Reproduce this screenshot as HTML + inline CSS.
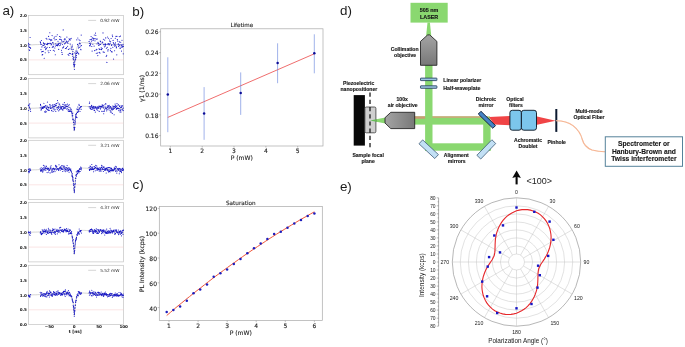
<!DOCTYPE html>
<html lang="en"><head><meta charset="utf-8"><title>Figure</title>
<style>html,body{margin:0;padding:0;background:#fff;}body{width:685px;height:347px;overflow:hidden;}svg{display:block;}</style>
</head><body>
<svg width="685" height="347" viewBox="0 0 685 347">
<rect width="685" height="347" fill="#fff"/>
<g font-family='"Liberation Sans","DejaVu Sans",sans-serif' font-size="13.4" fill="#1a1a1a">
<text x="2.4" y="15">a)</text>
<text x="132.2" y="15.5">b)</text>
<text x="132.6" y="189.1">c)</text>
<text x="340.1" y="15.3">d)</text>
<text x="339.9" y="190.8">e)</text>
</g>
<g id="pa">
<rect x="28.5" y="15.4" width="94.9" height="59.3" fill="#fff" stroke="#c4c4c4" stroke-width="0.7"/>
<path d="M28.5 59.9H123.4" stroke="#f5cfcf" stroke-width="0.55"/>
<path d="M28.4 44.9L30.3 44.9L32.2 44.8L34.1 44.7L35.9 44.6L37.8 44.6L39.7 44.5L41.6 44.4L43.5 44.3L45.4 44.1L47.3 44.0L49.2 43.9L51.1 43.8L53.0 43.6L54.9 43.5L56.8 43.3L58.7 43.1L60.6 43.0L62.5 42.8L64.4 42.6L64.4 42.6L64.7 42.6L64.9 42.6L65.2 42.6L65.4 42.6L65.7 42.6L65.9 42.6L66.1 42.6L66.4 42.6L66.6 42.6L66.9 42.7L67.1 42.7L67.4 42.7L67.6 42.8L67.9 42.9L68.1 42.9L68.4 43.0L68.6 43.1L68.9 43.3L69.1 43.4L69.4 43.6L69.6 43.8L69.9 44.1L70.1 44.4L70.3 44.7L70.6 45.1L70.8 45.6L71.1 46.2L71.3 46.8L71.6 47.5L71.8 48.4L72.1 49.4L72.3 50.5L72.6 51.8L72.8 53.3L73.1 55.0L73.3 57.0L73.6 59.3L73.8 61.9L74.1 65.0L74.3 68.5L74.5 65.0L74.8 61.9L75.0 59.3L75.3 57.0L75.5 55.0L75.8 53.3L76.0 51.8L76.3 50.5L76.5 49.4L76.8 48.4L77.0 47.5L77.3 46.8L77.5 46.2L77.8 45.6L78.0 45.1L78.3 44.7L78.5 44.4L78.7 44.1L79.0 43.8L79.2 43.6L79.5 43.4L79.7 43.3L80.0 43.1L80.2 43.0L80.5 42.9L80.7 42.9L81.0 42.8L81.2 42.7L81.5 42.7L81.7 42.7L82.0 42.6L82.2 42.6L82.5 42.6L82.7 42.6L82.9 42.6L83.2 42.6L83.4 42.6L83.7 42.6L83.9 42.6L84.2 42.6L84.2 42.6L86.3 42.8L88.3 43.0L90.4 43.2L92.5 43.4L94.6 43.5L96.7 43.7L98.7 43.9L100.8 44.0L102.9 44.1L105.0 44.3L107.1 44.4L109.1 44.5L111.2 44.6L113.3 44.7L115.4 44.8L117.5 44.8L119.5 44.9L121.6 45.0L123.7 45.0" fill="none" stroke="#c9c9c9" stroke-width="0.8"/>
<path d="M28.4 44.9h0M28.6 43.3h0M28.9 46.4h0M29.1 49.8h0M29.3 47.4h0M29.6 50.3h0M29.8 44.6h0M30.1 37.5h0M30.3 47.6h0M30.6 48.3h0M40.2 41.7h0M40.5 42.4h0M40.7 43.8h0M41.0 49.6h0M41.2 44.5h0M41.4 40.5h0M41.7 51.8h0M41.9 46.9h0M42.2 54.9h0M42.4 51.5h0M42.7 54.5h0M42.9 45.6h0M43.2 51.3h0M43.4 42.8h0M43.7 43.4h0M43.9 45.3h0M44.2 58.2h0M44.4 47.2h0M44.7 44.5h0M44.9 43.5h0M45.2 52.7h0M45.4 46.8h0M45.6 49.6h0M45.9 48.6h0M46.1 38.2h0M46.4 48.6h0M46.6 44.3h0M46.9 39.1h0M47.1 47.3h0M47.4 44.6h0M47.6 43.4h0M47.9 43.6h0M48.1 50.8h0M48.4 43.5h0M48.6 36.4h0M48.9 52.6h0M49.1 39.1h0M49.4 43.2h0M49.6 47.5h0M49.8 32.7h0M50.1 39.6h0M50.3 50.5h0M50.6 43.4h0M50.8 40.6h0M51.1 44.8h0M51.3 39.9h0M51.6 44.1h0M51.8 40.0h0M52.1 35.6h0M52.3 47.5h0M52.6 42.5h0M52.8 46.2h0M53.1 42.9h0M53.3 50.3h0M53.6 46.8h0M53.8 44.7h0M54.0 38.5h0M54.3 37.1h0M54.5 51.0h0M54.8 48.0h0M55.0 39.8h0M55.3 54.7h0M55.5 46.0h0M55.8 43.9h0M56.0 36.3h0M56.3 39.5h0M56.5 45.2h0M56.8 45.4h0M57.0 44.7h0M57.3 34.7h0M57.5 45.7h0M57.8 44.9h0M58.0 41.2h0M58.2 43.9h0M58.5 44.3h0M58.7 49.4h0M59.0 43.2h0M59.2 45.6h0M59.5 36.5h0M59.7 39.3h0M60.0 43.2h0M60.2 39.2h0M60.5 44.9h0M60.7 37.0h0M61.0 43.0h0M61.2 39.6h0M61.5 50.2h0M61.7 40.9h0M61.9 52.4h0M62.2 54.4h0M62.4 44.5h0M62.7 47.9h0M62.9 41.8h0M63.2 29.9h0M63.4 47.5h0M63.7 46.2h0M63.9 41.5h0M64.2 39.8h0M64.4 43.7h0M64.7 43.8h0M64.9 38.6h0M65.2 39.6h0M65.4 48.5h0M65.7 43.1h0M65.9 42.4h0M66.1 48.6h0M66.4 41.1h0M66.6 47.5h0M66.9 37.1h0M67.1 41.6h0M67.4 42.2h0M67.6 46.2h0M67.9 43.5h0M68.1 54.3h0M68.4 49.4h0M68.6 41.1h0M68.9 55.3h0M69.1 38.7h0M69.4 53.4h0M69.6 39.6h0M69.9 48.8h0M70.1 40.1h0M70.3 44.0h0M70.6 53.6h0M70.8 38.8h0M71.1 38.4h0M71.3 47.1h0M71.6 49.0h0M71.8 49.2h0M72.1 54.3h0M72.3 45.0h0M72.6 54.4h0M72.8 53.5h0M73.1 58.6h0M73.3 59.7h0M73.6 64.3h0M73.8 57.4h0M74.1 65.5h0M74.3 66.0h0M74.5 64.9h0M74.8 64.4h0M75.0 60.6h0M75.3 59.4h0M75.5 55.0h0M75.8 55.0h0M76.0 53.2h0M76.3 57.3h0M76.5 53.4h0M76.8 39.8h0M77.0 51.1h0M77.3 52.4h0M77.5 44.4h0M77.8 38.0h0M78.0 53.1h0M78.3 45.9h0M78.5 47.9h0M78.7 53.9h0M79.0 39.7h0M79.2 43.8h0M79.5 43.0h0M79.7 47.5h0M80.0 40.6h0M80.2 46.1h0M80.5 43.7h0M80.7 49.2h0M81.0 49.7h0M81.2 35.1h0M81.5 45.6h0M89.1 41.4h0M89.4 43.3h0M89.6 45.6h0M89.9 46.0h0M90.1 39.6h0M90.4 44.9h0M90.6 44.1h0M90.8 43.1h0M91.1 36.6h0M91.3 39.4h0M91.6 41.1h0M91.8 46.5h0M92.1 51.1h0M92.3 38.0h0M92.6 37.9h0M92.8 44.2h0M93.1 40.4h0M93.3 39.0h0M93.6 38.8h0M93.8 38.3h0M94.1 46.1h0M94.3 35.0h0M94.6 50.6h0M94.8 38.7h0M95.0 40.8h0M95.3 38.7h0M95.5 33.1h0M95.8 35.3h0M96.0 50.1h0M96.3 53.2h0M96.5 39.1h0M96.8 49.4h0M97.0 43.8h0M97.3 39.0h0M97.5 53.0h0M97.8 55.6h0M98.0 42.4h0M98.3 43.6h0M98.5 45.2h0M98.8 43.6h0M99.0 48.7h0M99.2 52.4h0M99.5 44.8h0M99.7 49.4h0M100.0 53.1h0M100.2 41.1h0M100.5 44.3h0M100.7 41.7h0M101.0 49.5h0M101.2 47.7h0M101.5 49.6h0M101.7 49.0h0M102.0 43.0h0M102.2 48.5h0M102.5 42.1h0M102.7 42.2h0M103.0 32.9h0M103.2 51.9h0M103.4 39.2h0M103.7 44.7h0M103.9 44.3h0M104.2 52.3h0M104.4 46.8h0M104.7 40.1h0M104.9 44.7h0M105.2 43.8h0M105.4 45.9h0M105.7 37.9h0M105.9 44.4h0M106.2 56.5h0M106.4 48.2h0M106.7 55.3h0M106.9 62.4h0M107.2 47.3h0M107.4 37.0h0M107.6 44.1h0M107.9 50.9h0M108.1 49.6h0M108.4 38.2h0M108.6 43.6h0M108.9 44.2h0M109.1 44.8h0M109.4 44.3h0M109.6 40.0h0M109.9 41.5h0M110.1 43.3h0M110.4 50.3h0M110.6 41.7h0M110.9 48.3h0M111.1 38.5h0M111.3 51.6h0M111.6 45.4h0M111.8 44.6h0M112.1 51.9h0M112.3 35.1h0M112.6 36.6h0M112.8 47.2h0M113.1 40.4h0M113.3 42.6h0M113.6 59.1h0M113.8 43.3h0M114.1 45.0h0M114.3 44.3h0M114.6 50.7h0M114.8 46.2h0M115.1 45.7h0M115.3 38.2h0M115.5 42.9h0M115.8 44.8h0M116.0 36.4h0M116.3 47.8h0M116.5 46.9h0M116.8 54.8h0M117.0 36.2h0M117.3 39.5h0M117.5 39.8h0M117.8 41.2h0M118.0 44.2h0M118.3 43.7h0M118.5 46.3h0M118.8 46.0h0M119.0 44.6h0M119.3 36.6h0M119.5 41.9h0M119.7 45.2h0M120.0 48.1h0M120.2 48.4h0M120.5 36.1h0M120.7 42.2h0M121.0 44.6h0M121.2 46.9h0M121.5 51.1h0M121.7 45.3h0M122.0 40.2h0M122.2 47.2h0M122.5 46.3h0M122.7 46.2h0M123.0 44.4h0M123.2 53.8h0M123.5 46.3h0M72.2 54.2h0M72.4 46.8h0M72.7 56.2h0M72.9 51.5h0M73.2 49.3h0M73.4 59.4h0M73.7 62.8h0M73.9 62.8h0M74.2 66.7h0M74.4 69.5h0M74.7 61.8h0M74.9 52.9h0M75.2 59.2h0M75.4 56.9h0M75.7 58.9h0M75.9 51.0h0M76.2 57.2h0M76.4 55.5h0" fill="none" stroke="#1a1ac4" stroke-width="1.15" stroke-linecap="round"/>
<path d="M88.2 20.4h7.9" stroke="#c4c4c4" stroke-width="0.7"/>
<text x="100.2" y="22.1" font-family='"DejaVu Sans","Liberation Sans",sans-serif' font-size="4.3" fill="#2a2a2a">0.92 mW</text>
<g font-family='"DejaVu Sans","Liberation Sans",sans-serif' font-weight="bold" font-size="4.1" fill="#111" text-anchor="end">
<text x="26.9" y="16.9">2.0</text>
<text x="26.9" y="31.7">1.5</text>
<text x="26.9" y="46.6">1.0</text>
<text x="26.9" y="61.4">0.5</text>
</g>
<rect x="28.5" y="78.6" width="94.9" height="59.3" fill="#fff" stroke="#c4c4c4" stroke-width="0.7"/>
<path d="M28.5 123.1H123.4" stroke="#f5cfcf" stroke-width="0.55"/>
<path d="M28.4 108.4L30.3 108.3L32.2 108.2L34.1 108.2L35.9 108.1L37.8 108.0L39.7 107.9L41.6 107.8L43.5 107.7L45.4 107.6L47.3 107.5L49.2 107.4L51.1 107.3L53.0 107.1L54.9 107.0L56.8 106.9L58.7 106.7L60.6 106.5L62.5 106.4L64.4 106.3L64.4 106.3L64.7 106.3L64.9 106.3L65.2 106.3L65.4 106.3L65.7 106.3L65.9 106.3L66.1 106.3L66.4 106.3L66.6 106.3L66.9 106.4L67.1 106.4L67.4 106.4L67.6 106.5L67.9 106.6L68.1 106.7L68.4 106.8L68.6 106.9L68.9 107.0L69.1 107.2L69.4 107.4L69.6 107.6L69.9 107.9L70.1 108.2L70.3 108.5L70.6 108.9L70.8 109.4L71.1 109.9L71.3 110.5L71.6 111.3L71.8 112.1L72.1 113.0L72.3 114.1L72.6 115.4L72.8 116.8L73.1 118.4L73.3 120.3L73.6 122.5L73.8 125.0L74.1 127.8L74.3 131.1L74.5 127.8L74.8 125.0L75.0 122.5L75.3 120.3L75.5 118.4L75.8 116.8L76.0 115.4L76.3 114.1L76.5 113.0L76.8 112.1L77.0 111.3L77.3 110.5L77.5 109.9L77.8 109.4L78.0 108.9L78.3 108.5L78.5 108.2L78.7 107.9L79.0 107.6L79.2 107.4L79.5 107.2L79.7 107.0L80.0 106.9L80.2 106.8L80.5 106.7L80.7 106.6L81.0 106.5L81.2 106.4L81.5 106.4L81.7 106.4L82.0 106.3L82.2 106.3L82.5 106.3L82.7 106.3L82.9 106.3L83.2 106.3L83.4 106.3L83.7 106.3L83.9 106.3L84.2 106.3L84.2 106.3L86.3 106.4L88.3 106.6L90.4 106.7L92.5 106.9L94.6 107.1L96.7 107.2L98.7 107.4L100.8 107.5L102.9 107.6L105.0 107.7L107.1 107.8L109.1 107.9L111.2 108.0L113.3 108.1L115.4 108.2L117.5 108.3L119.5 108.3L121.6 108.4L123.7 108.5" fill="none" stroke="#c9c9c9" stroke-width="0.8"/>
<path d="M28.4 105.3h0M28.6 110.5h0M28.9 105.8h0M29.1 104.7h0M29.3 107.7h0M29.6 107.0h0M29.8 103.7h0M30.1 108.8h0M30.3 109.7h0M30.6 111.5h0M40.2 107.8h0M40.5 104.4h0M40.7 105.6h0M41.0 110.1h0M41.2 109.9h0M41.4 109.0h0M41.7 107.1h0M41.9 108.3h0M42.2 107.3h0M42.4 107.1h0M42.7 108.5h0M42.9 107.9h0M43.2 107.3h0M43.4 107.9h0M43.7 106.5h0M43.9 103.2h0M44.2 106.3h0M44.4 107.5h0M44.7 111.7h0M44.9 106.7h0M45.2 112.3h0M45.4 111.0h0M45.6 105.6h0M45.9 105.9h0M46.1 107.9h0M46.4 111.7h0M46.6 108.4h0M46.9 109.2h0M47.1 106.0h0M47.4 102.1h0M47.6 107.0h0M47.9 109.4h0M48.1 110.3h0M48.4 107.6h0M48.6 107.9h0M48.9 110.2h0M49.1 107.1h0M49.4 110.2h0M49.6 104.7h0M49.8 104.8h0M50.1 104.7h0M50.3 108.5h0M50.6 106.1h0M50.8 107.6h0M51.1 108.2h0M51.3 108.1h0M51.6 110.4h0M51.8 110.7h0M52.1 105.3h0M52.3 107.7h0M52.6 106.7h0M52.8 104.7h0M53.1 111.3h0M53.3 109.0h0M53.6 106.7h0M53.8 106.1h0M54.0 108.0h0M54.3 104.6h0M54.5 106.5h0M54.8 110.0h0M55.0 109.2h0M55.3 105.0h0M55.5 105.8h0M55.8 111.5h0M56.0 103.7h0M56.3 105.5h0M56.5 103.6h0M56.8 107.8h0M57.0 107.6h0M57.3 109.6h0M57.5 100.6h0M57.8 107.2h0M58.0 102.9h0M58.2 108.3h0M58.5 106.3h0M58.7 110.8h0M59.0 107.6h0M59.2 104.3h0M59.5 109.7h0M59.7 104.0h0M60.0 105.8h0M60.2 109.1h0M60.5 107.8h0M60.7 107.7h0M61.0 106.6h0M61.2 107.8h0M61.5 108.5h0M61.7 107.2h0M61.9 108.9h0M62.2 109.6h0M62.4 106.5h0M62.7 104.2h0M62.9 110.1h0M63.2 106.3h0M63.4 107.9h0M63.7 108.7h0M63.9 104.2h0M64.2 107.6h0M64.4 102.6h0M64.7 108.2h0M64.9 105.3h0M65.2 106.8h0M65.4 108.1h0M65.7 104.8h0M65.9 106.7h0M66.1 104.8h0M66.4 106.4h0M66.6 109.0h0M66.9 106.6h0M67.1 106.3h0M67.4 104.1h0M67.6 108.7h0M67.9 106.7h0M68.1 110.8h0M68.4 105.2h0M68.6 109.5h0M68.9 111.4h0M69.1 107.3h0M69.4 104.7h0M69.6 111.3h0M69.9 110.5h0M70.1 109.9h0M70.3 111.2h0M70.6 108.0h0M70.8 111.3h0M71.1 111.6h0M71.3 109.2h0M71.6 112.9h0M71.8 111.1h0M72.1 115.1h0M72.3 116.7h0M72.6 119.1h0M72.8 113.1h0M73.1 119.0h0M73.3 119.9h0M73.6 122.5h0M73.8 124.7h0M74.1 127.7h0M74.3 128.9h0M74.5 129.3h0M74.8 127.4h0M75.0 124.2h0M75.3 122.8h0M75.5 117.0h0M75.8 115.1h0M76.0 117.3h0M76.3 117.1h0M76.5 113.8h0M76.8 109.0h0M77.0 117.6h0M77.3 109.3h0M77.5 112.4h0M77.8 107.0h0M78.0 111.4h0M78.3 109.2h0M78.5 111.7h0M78.7 110.2h0M79.0 104.3h0M79.2 105.4h0M79.5 108.1h0M79.7 109.1h0M80.0 111.5h0M80.2 107.7h0M80.5 106.7h0M80.7 106.8h0M81.0 106.7h0M81.2 109.2h0M81.5 106.6h0M89.1 106.7h0M89.4 103.5h0M89.6 102.1h0M89.9 107.0h0M90.1 108.6h0M90.4 106.9h0M90.6 108.2h0M90.8 108.6h0M91.1 106.9h0M91.3 109.4h0M91.6 105.4h0M91.8 107.1h0M92.1 106.3h0M92.3 107.3h0M92.6 108.7h0M92.8 109.2h0M93.1 107.5h0M93.3 108.3h0M93.6 106.4h0M93.8 107.0h0M94.1 110.3h0M94.3 106.9h0M94.6 110.3h0M94.8 108.6h0M95.0 107.8h0M95.3 112.1h0M95.5 106.9h0M95.8 106.8h0M96.0 107.6h0M96.3 108.2h0M96.5 108.1h0M96.8 109.6h0M97.0 107.9h0M97.3 108.6h0M97.5 107.1h0M97.8 110.2h0M98.0 106.7h0M98.3 107.0h0M98.5 107.7h0M98.8 108.4h0M99.0 106.0h0M99.2 111.4h0M99.5 106.3h0M99.7 106.8h0M100.0 106.8h0M100.2 106.5h0M100.5 109.0h0M100.7 108.1h0M101.0 106.0h0M101.2 106.5h0M101.5 107.0h0M101.7 111.2h0M102.0 106.3h0M102.2 104.8h0M102.5 105.2h0M102.7 107.0h0M103.0 111.3h0M103.2 105.4h0M103.4 108.0h0M103.7 113.7h0M103.9 106.8h0M104.2 111.3h0M104.4 110.8h0M104.7 109.2h0M104.9 104.7h0M105.2 108.6h0M105.4 107.1h0M105.7 103.6h0M105.9 104.0h0M106.2 108.0h0M106.4 108.4h0M106.7 110.8h0M106.9 109.5h0M107.2 106.8h0M107.4 106.9h0M107.6 107.6h0M107.9 105.5h0M108.1 109.7h0M108.4 108.0h0M108.6 106.2h0M108.9 106.5h0M109.1 105.4h0M109.4 107.0h0M109.6 108.7h0M109.9 107.1h0M110.1 110.4h0M110.4 111.9h0M110.6 106.6h0M110.9 108.1h0M111.1 107.3h0M111.3 112.1h0M111.6 108.9h0M111.8 109.5h0M112.1 110.1h0M112.3 113.4h0M112.6 108.9h0M112.8 106.0h0M113.1 107.2h0M113.3 109.5h0M113.6 108.2h0M113.8 106.3h0M114.1 114.7h0M114.3 108.5h0M114.6 106.9h0M114.8 106.6h0M115.1 104.1h0M115.3 105.5h0M115.5 107.5h0M115.8 107.5h0M116.0 106.4h0M116.3 109.5h0M116.5 108.3h0M116.8 106.1h0M117.0 103.6h0M117.3 108.6h0M117.5 108.4h0M117.8 107.8h0M118.0 105.1h0M118.3 108.4h0M118.5 104.8h0M118.8 110.6h0M119.0 108.8h0M119.3 108.8h0M119.5 106.5h0M119.7 105.9h0M120.0 111.9h0M120.2 110.5h0M120.5 107.6h0M120.7 109.9h0M121.0 112.0h0M121.2 105.9h0M121.5 107.2h0M121.7 107.3h0M122.0 109.6h0M122.2 106.0h0M122.5 109.0h0M122.7 105.9h0M123.0 110.6h0M123.2 110.5h0M123.5 108.0h0M72.2 115.1h0M72.4 113.3h0M72.7 115.5h0M72.9 119.4h0M73.2 119.2h0M73.4 122.0h0M73.7 122.2h0M73.9 127.3h0M74.2 130.0h0M74.4 127.9h0M74.7 123.0h0M74.9 120.4h0M75.2 121.3h0M75.4 118.9h0M75.7 114.6h0M75.9 116.3h0M76.2 116.8h0M76.4 113.3h0" fill="none" stroke="#1a1ac4" stroke-width="1.15" stroke-linecap="round"/>
<path d="M88.2 83.6h7.9" stroke="#c4c4c4" stroke-width="0.7"/>
<text x="100.2" y="85.3" font-family='"DejaVu Sans","Liberation Sans",sans-serif' font-size="4.3" fill="#2a2a2a">2.06 mW</text>
<g font-family='"DejaVu Sans","Liberation Sans",sans-serif' font-weight="bold" font-size="4.1" fill="#111" text-anchor="end">
<text x="26.9" y="80.1">2.0</text>
<text x="26.9" y="94.9">1.5</text>
<text x="26.9" y="109.7">1.0</text>
<text x="26.9" y="124.6">0.5</text>
</g>
<rect x="28.5" y="140.3" width="94.9" height="59.3" fill="#fff" stroke="#c4c4c4" stroke-width="0.7"/>
<path d="M28.5 184.8H123.4" stroke="#f5cfcf" stroke-width="0.55"/>
<path d="M28.4 170.0L30.3 170.0L32.2 169.9L34.1 169.8L35.9 169.8L37.8 169.7L39.7 169.6L41.6 169.5L43.5 169.4L45.4 169.3L47.3 169.2L49.2 169.1L51.1 169.0L53.0 168.9L54.9 168.8L56.8 168.6L58.7 168.5L60.6 168.4L62.5 168.2L64.4 168.1L64.4 168.1L64.7 168.1L64.9 168.1L65.2 168.1L65.4 168.1L65.7 168.1L65.9 168.1L66.1 168.1L66.4 168.1L66.6 168.2L66.9 168.2L67.1 168.2L67.4 168.3L67.6 168.3L67.9 168.4L68.1 168.5L68.4 168.5L68.6 168.7L68.9 168.8L69.1 168.9L69.4 169.1L69.6 169.3L69.9 169.6L70.1 169.9L70.3 170.2L70.6 170.6L70.8 171.0L71.1 171.5L71.3 172.1L71.6 172.8L71.8 173.6L72.1 174.5L72.3 175.6L72.6 176.8L72.8 178.2L73.1 179.9L73.3 181.7L73.6 183.9L73.8 186.4L74.1 189.2L74.3 192.5L74.5 189.2L74.8 186.4L75.0 183.9L75.3 181.7L75.5 179.9L75.8 178.2L76.0 176.8L76.3 175.6L76.5 174.5L76.8 173.6L77.0 172.8L77.3 172.1L77.5 171.5L77.8 171.0L78.0 170.6L78.3 170.2L78.5 169.9L78.7 169.6L79.0 169.3L79.2 169.1L79.5 168.9L79.7 168.8L80.0 168.7L80.2 168.5L80.5 168.5L80.7 168.4L81.0 168.3L81.2 168.3L81.5 168.2L81.7 168.2L82.0 168.2L82.2 168.1L82.5 168.1L82.7 168.1L82.9 168.1L83.2 168.1L83.4 168.1L83.7 168.1L83.9 168.1L84.2 168.1L84.2 168.1L86.3 168.2L88.3 168.4L90.4 168.5L92.5 168.7L94.6 168.8L96.7 169.0L98.7 169.1L100.8 169.2L102.9 169.3L105.0 169.4L107.1 169.5L109.1 169.6L111.2 169.7L113.3 169.8L115.4 169.9L117.5 169.9L119.5 170.0L121.6 170.1L123.7 170.1" fill="none" stroke="#c9c9c9" stroke-width="0.8"/>
<path d="M28.4 169.3h0M28.6 171.4h0M28.9 172.7h0M29.1 172.4h0M29.3 168.9h0M29.6 171.2h0M29.8 170.2h0M30.1 169.6h0M30.3 169.0h0M30.6 170.5h0M40.2 168.8h0M40.5 171.0h0M40.7 170.2h0M41.0 171.2h0M41.2 167.7h0M41.4 169.6h0M41.7 170.7h0M41.9 170.1h0M42.2 169.9h0M42.4 168.3h0M42.7 172.1h0M42.9 171.2h0M43.2 170.1h0M43.4 165.3h0M43.7 167.9h0M43.9 169.6h0M44.2 168.2h0M44.4 166.0h0M44.7 169.8h0M44.9 170.0h0M45.2 167.4h0M45.4 168.5h0M45.6 168.2h0M45.9 170.1h0M46.1 166.1h0M46.4 166.5h0M46.6 168.3h0M46.9 168.1h0M47.1 172.6h0M47.4 168.2h0M47.6 169.5h0M47.9 168.5h0M48.1 168.1h0M48.4 169.7h0M48.6 172.0h0M48.9 168.5h0M49.1 170.4h0M49.4 169.7h0M49.6 170.1h0M49.8 169.7h0M50.1 172.9h0M50.3 167.0h0M50.6 168.6h0M50.8 167.2h0M51.1 165.7h0M51.3 169.0h0M51.6 172.0h0M51.8 170.5h0M52.1 171.0h0M52.3 169.8h0M52.6 168.8h0M52.8 172.2h0M53.1 168.3h0M53.3 171.4h0M53.6 168.4h0M53.8 169.0h0M54.0 169.3h0M54.3 168.9h0M54.5 169.7h0M54.8 169.8h0M55.0 171.6h0M55.3 168.8h0M55.5 165.7h0M55.8 165.4h0M56.0 166.5h0M56.3 167.5h0M56.5 169.8h0M56.8 166.2h0M57.0 168.7h0M57.3 168.7h0M57.5 169.1h0M57.8 168.4h0M58.0 169.3h0M58.2 168.7h0M58.5 170.3h0M58.7 169.1h0M59.0 164.7h0M59.2 168.6h0M59.5 168.8h0M59.7 167.5h0M60.0 167.2h0M60.2 170.2h0M60.5 168.7h0M60.7 166.8h0M61.0 167.9h0M61.2 168.1h0M61.5 165.7h0M61.7 169.4h0M61.9 168.1h0M62.2 169.1h0M62.4 165.7h0M62.7 171.5h0M62.9 169.3h0M63.2 169.1h0M63.4 167.0h0M63.7 167.1h0M63.9 165.8h0M64.2 170.8h0M64.4 166.9h0M64.7 168.6h0M64.9 169.2h0M65.2 167.2h0M65.4 169.6h0M65.7 171.6h0M65.9 168.7h0M66.1 170.6h0M66.4 169.2h0M66.6 167.5h0M66.9 167.7h0M67.1 165.6h0M67.4 168.6h0M67.6 170.9h0M67.9 169.6h0M68.1 170.0h0M68.4 170.6h0M68.6 167.9h0M68.9 169.9h0M69.1 172.2h0M69.4 168.0h0M69.6 169.5h0M69.9 169.0h0M70.1 169.7h0M70.3 169.2h0M70.6 170.5h0M70.8 169.0h0M71.1 170.9h0M71.3 171.5h0M71.6 172.2h0M71.8 175.9h0M72.1 174.8h0M72.3 176.0h0M72.6 176.5h0M72.8 180.1h0M73.1 177.7h0M73.3 181.6h0M73.6 185.3h0M73.8 188.2h0M74.1 189.5h0M74.3 192.6h0M74.5 189.9h0M74.8 186.3h0M75.0 184.6h0M75.3 181.0h0M75.5 180.8h0M75.8 178.3h0M76.0 175.4h0M76.3 171.8h0M76.5 176.1h0M76.8 174.3h0M77.0 174.1h0M77.3 170.9h0M77.5 173.4h0M77.8 171.8h0M78.0 170.6h0M78.3 171.8h0M78.5 171.4h0M78.7 170.4h0M79.0 172.8h0M79.2 171.5h0M79.5 169.6h0M79.7 168.5h0M80.0 169.0h0M80.2 171.5h0M80.5 169.2h0M80.7 167.0h0M81.0 167.4h0M81.2 168.4h0M81.5 169.7h0M89.1 167.4h0M89.4 169.4h0M89.6 170.4h0M89.9 169.8h0M90.1 166.1h0M90.4 168.2h0M90.6 166.6h0M90.8 169.4h0M91.1 167.0h0M91.3 169.6h0M91.6 168.9h0M91.8 164.5h0M92.1 167.4h0M92.3 169.5h0M92.6 168.8h0M92.8 168.2h0M93.1 166.7h0M93.3 169.6h0M93.6 171.7h0M93.8 169.2h0M94.1 168.8h0M94.3 168.6h0M94.6 166.6h0M94.8 168.3h0M95.0 167.5h0M95.3 170.7h0M95.5 167.4h0M95.8 165.4h0M96.0 167.6h0M96.3 168.5h0M96.5 168.7h0M96.8 166.0h0M97.0 170.5h0M97.3 169.2h0M97.5 168.3h0M97.8 167.8h0M98.0 169.8h0M98.3 168.6h0M98.5 169.5h0M98.8 168.9h0M99.0 169.3h0M99.2 171.0h0M99.5 169.2h0M99.7 167.7h0M100.0 170.8h0M100.2 169.6h0M100.5 168.1h0M100.7 171.0h0M101.0 168.9h0M101.2 171.0h0M101.5 167.4h0M101.7 165.4h0M102.0 165.9h0M102.2 169.6h0M102.5 168.1h0M102.7 169.1h0M103.0 169.2h0M103.2 166.8h0M103.4 171.5h0M103.7 167.6h0M103.9 169.5h0M104.2 167.1h0M104.4 169.1h0M104.7 170.5h0M104.9 169.0h0M105.2 168.2h0M105.4 169.4h0M105.7 168.7h0M105.9 170.3h0M106.2 173.0h0M106.4 168.0h0M106.7 168.4h0M106.9 169.3h0M107.2 169.4h0M107.4 167.8h0M107.6 170.3h0M107.9 170.7h0M108.1 169.9h0M108.4 167.6h0M108.6 171.9h0M108.9 167.7h0M109.1 170.7h0M109.4 171.4h0M109.6 167.6h0M109.9 169.8h0M110.1 171.8h0M110.4 170.3h0M110.6 168.2h0M110.9 167.7h0M111.1 170.4h0M111.3 169.0h0M111.6 168.6h0M111.8 170.8h0M112.1 169.2h0M112.3 169.8h0M112.6 170.6h0M112.8 170.6h0M113.1 169.7h0M113.3 169.7h0M113.6 170.7h0M113.8 170.5h0M114.1 168.0h0M114.3 169.5h0M114.6 168.4h0M114.8 167.9h0M115.1 168.9h0M115.3 166.2h0M115.5 171.2h0M115.8 168.6h0M116.0 170.4h0M116.3 166.9h0M116.5 167.1h0M116.8 173.1h0M117.0 171.5h0M117.3 168.9h0M117.5 168.7h0M117.8 168.8h0M118.0 170.1h0M118.3 169.2h0M118.5 168.9h0M118.8 170.1h0M119.0 168.3h0M119.3 173.7h0M119.5 169.0h0M119.7 171.7h0M120.0 168.5h0M120.2 170.4h0M120.5 171.5h0M120.7 169.4h0M121.0 171.5h0M121.2 171.6h0M121.5 172.6h0M121.7 170.1h0M122.0 169.3h0M122.2 168.4h0M122.5 170.3h0M122.7 168.4h0M123.0 170.1h0M123.2 170.3h0M123.5 169.2h0M72.2 173.5h0M72.4 176.7h0M72.7 177.9h0M72.9 179.2h0M73.2 180.7h0M73.4 183.9h0M73.7 183.9h0M73.9 188.1h0M74.2 190.4h0M74.4 191.5h0M74.7 187.4h0M74.9 184.6h0M75.2 183.3h0M75.4 178.1h0M75.7 178.5h0M75.9 175.0h0M76.2 174.8h0M76.4 176.0h0" fill="none" stroke="#1a1ac4" stroke-width="1.15" stroke-linecap="round"/>
<path d="M88.2 145.3h7.9" stroke="#c4c4c4" stroke-width="0.7"/>
<text x="100.2" y="147" font-family='"DejaVu Sans","Liberation Sans",sans-serif' font-size="4.3" fill="#2a2a2a">3.21 mW</text>
<g font-family='"DejaVu Sans","Liberation Sans",sans-serif' font-weight="bold" font-size="4.1" fill="#111" text-anchor="end">
<text x="26.9" y="141.8">2.0</text>
<text x="26.9" y="156.6">1.5</text>
<text x="26.9" y="171.5">1.0</text>
<text x="26.9" y="186.3">0.5</text>
</g>
<rect x="28.5" y="202.6" width="94.9" height="59.3" fill="#fff" stroke="#c4c4c4" stroke-width="0.7"/>
<path d="M28.5 247.1H123.4" stroke="#f5cfcf" stroke-width="0.55"/>
<path d="M28.4 232.3L30.3 232.3L32.2 232.2L34.1 232.1L35.9 232.1L37.8 232.0L39.7 231.9L41.6 231.8L43.5 231.7L45.4 231.6L47.3 231.5L49.2 231.4L51.1 231.3L53.0 231.2L54.9 231.1L56.8 230.9L58.7 230.8L60.6 230.6L62.5 230.5L64.4 230.4L64.4 230.4L64.7 230.4L64.9 230.4L65.2 230.4L65.4 230.4L65.7 230.3L65.9 230.3L66.1 230.4L66.4 230.4L66.6 230.4L66.9 230.4L67.1 230.4L67.4 230.4L67.6 230.5L67.9 230.5L68.1 230.6L68.4 230.7L68.6 230.8L68.9 230.9L69.1 231.0L69.4 231.2L69.6 231.4L69.9 231.6L70.1 231.8L70.3 232.1L70.6 232.5L70.8 232.9L71.1 233.4L71.3 233.9L71.6 234.6L71.8 235.4L72.1 236.3L72.3 237.3L72.6 238.5L72.8 239.9L73.1 241.5L73.3 243.4L73.6 245.6L73.8 248.1L74.1 251.1L74.3 254.5L74.5 251.1L74.8 248.1L75.0 245.6L75.3 243.4L75.5 241.5L75.8 239.9L76.0 238.5L76.3 237.3L76.5 236.3L76.8 235.4L77.0 234.6L77.3 233.9L77.5 233.4L77.8 232.9L78.0 232.5L78.3 232.1L78.5 231.8L78.7 231.6L79.0 231.4L79.2 231.2L79.5 231.0L79.7 230.9L80.0 230.8L80.2 230.7L80.5 230.6L80.7 230.5L81.0 230.5L81.2 230.4L81.5 230.4L81.7 230.4L82.0 230.4L82.2 230.4L82.5 230.4L82.7 230.3L82.9 230.3L83.2 230.4L83.4 230.4L83.7 230.4L83.9 230.4L84.2 230.4L84.2 230.4L86.3 230.5L88.3 230.7L90.4 230.8L92.5 231.0L94.6 231.1L96.7 231.3L98.7 231.4L100.8 231.5L102.9 231.6L105.0 231.7L107.1 231.8L109.1 231.9L111.2 232.0L113.3 232.1L115.4 232.2L117.5 232.2L119.5 232.3L121.6 232.4L123.7 232.4" fill="none" stroke="#c9c9c9" stroke-width="0.8"/>
<path d="M28.4 232.8h0M28.6 231.7h0M28.9 232.2h0M29.1 232.2h0M29.3 232.7h0M29.6 234.7h0M29.8 232.6h0M30.1 235.2h0M30.3 231.8h0M30.6 233.2h0M40.2 232.8h0M40.5 232.2h0M40.7 231.5h0M41.0 233.8h0M41.2 234.2h0M41.4 233.3h0M41.7 234.6h0M41.9 233.1h0M42.2 229.7h0M42.4 233.2h0M42.7 230.9h0M42.9 233.6h0M43.2 231.3h0M43.4 232.2h0M43.7 231.8h0M43.9 230.9h0M44.2 229.3h0M44.4 231.4h0M44.7 231.5h0M44.9 233.0h0M45.2 230.9h0M45.4 232.0h0M45.6 230.5h0M45.9 231.7h0M46.1 229.2h0M46.4 234.3h0M46.6 232.0h0M46.9 230.4h0M47.1 232.0h0M47.4 232.6h0M47.6 231.9h0M47.9 233.4h0M48.1 231.3h0M48.4 228.2h0M48.6 229.9h0M48.9 232.9h0M49.1 232.6h0M49.4 232.0h0M49.6 230.0h0M49.8 232.5h0M50.1 232.3h0M50.3 230.2h0M50.6 230.2h0M50.8 231.8h0M51.1 232.8h0M51.3 233.4h0M51.6 232.2h0M51.8 234.3h0M52.1 230.2h0M52.3 232.1h0M52.6 230.6h0M52.8 228.7h0M53.1 229.6h0M53.3 232.7h0M53.6 230.0h0M53.8 229.6h0M54.0 232.1h0M54.3 232.4h0M54.5 231.2h0M54.8 233.3h0M55.0 229.1h0M55.3 234.3h0M55.5 232.5h0M55.8 231.4h0M56.0 231.3h0M56.3 230.7h0M56.5 230.6h0M56.8 231.2h0M57.0 229.4h0M57.3 233.8h0M57.5 230.9h0M57.8 231.8h0M58.0 230.7h0M58.2 230.5h0M58.5 232.1h0M58.7 231.7h0M59.0 229.7h0M59.2 230.3h0M59.5 231.7h0M59.7 227.9h0M60.0 227.5h0M60.2 232.7h0M60.5 230.2h0M60.7 227.2h0M61.0 229.5h0M61.2 230.3h0M61.5 230.9h0M61.7 231.3h0M61.9 230.8h0M62.2 231.3h0M62.4 229.5h0M62.7 231.0h0M62.9 231.1h0M63.2 232.1h0M63.4 230.5h0M63.7 231.7h0M63.9 230.7h0M64.2 229.0h0M64.4 229.9h0M64.7 229.7h0M64.9 229.9h0M65.2 230.3h0M65.4 230.5h0M65.7 230.8h0M65.9 229.3h0M66.1 231.8h0M66.4 228.5h0M66.6 230.3h0M66.9 231.4h0M67.1 231.1h0M67.4 231.4h0M67.6 230.3h0M67.9 231.5h0M68.1 229.0h0M68.4 231.7h0M68.6 233.9h0M68.9 231.9h0M69.1 233.7h0M69.4 231.2h0M69.6 229.9h0M69.9 230.7h0M70.1 233.6h0M70.3 233.1h0M70.6 230.1h0M70.8 232.5h0M71.1 233.4h0M71.3 232.6h0M71.6 231.5h0M71.8 233.7h0M72.1 236.1h0M72.3 236.9h0M72.6 237.8h0M72.8 240.6h0M73.1 242.7h0M73.3 243.3h0M73.6 246.5h0M73.8 248.2h0M74.1 251.0h0M74.3 252.9h0M74.5 251.8h0M74.8 248.2h0M75.0 245.7h0M75.3 242.9h0M75.5 240.4h0M75.8 240.5h0M76.0 239.5h0M76.3 239.3h0M76.5 237.4h0M76.8 234.7h0M77.0 234.5h0M77.3 235.3h0M77.5 233.9h0M77.8 232.9h0M78.0 231.8h0M78.3 232.9h0M78.5 232.2h0M78.7 234.0h0M79.0 232.9h0M79.2 229.0h0M79.5 234.0h0M79.7 231.3h0M80.0 230.5h0M80.2 231.2h0M80.5 231.7h0M80.7 230.6h0M81.0 230.5h0M81.2 230.6h0M81.5 233.0h0M89.1 230.9h0M89.4 231.9h0M89.6 231.5h0M89.9 230.5h0M90.1 229.9h0M90.4 229.6h0M90.6 231.5h0M90.8 229.6h0M91.1 229.3h0M91.3 229.4h0M91.6 229.0h0M91.8 231.1h0M92.1 231.2h0M92.3 229.8h0M92.6 232.9h0M92.8 230.7h0M93.1 231.7h0M93.3 231.5h0M93.6 233.4h0M93.8 232.3h0M94.1 231.1h0M94.3 229.9h0M94.6 229.8h0M94.8 231.3h0M95.0 231.4h0M95.3 232.3h0M95.5 230.6h0M95.8 231.5h0M96.0 230.4h0M96.3 228.9h0M96.5 231.3h0M96.8 233.3h0M97.0 232.5h0M97.3 233.3h0M97.5 232.9h0M97.8 229.6h0M98.0 231.0h0M98.3 233.4h0M98.5 230.5h0M98.8 229.7h0M99.0 231.9h0M99.2 232.3h0M99.5 231.9h0M99.7 231.1h0M100.0 230.6h0M100.2 229.9h0M100.5 229.9h0M100.7 229.9h0M101.0 229.7h0M101.2 230.6h0M101.5 233.6h0M101.7 231.7h0M102.0 231.1h0M102.2 232.1h0M102.5 230.4h0M102.7 232.1h0M103.0 232.9h0M103.2 229.7h0M103.4 230.8h0M103.7 231.4h0M103.9 230.4h0M104.2 230.3h0M104.4 231.2h0M104.7 235.0h0M104.9 232.6h0M105.2 232.4h0M105.4 233.1h0M105.7 231.5h0M105.9 230.2h0M106.2 232.4h0M106.4 233.3h0M106.7 229.1h0M106.9 232.4h0M107.2 233.5h0M107.4 231.5h0M107.6 231.3h0M107.9 232.8h0M108.1 230.8h0M108.4 232.5h0M108.6 233.1h0M108.9 231.7h0M109.1 230.9h0M109.4 232.8h0M109.6 231.5h0M109.9 232.1h0M110.1 228.2h0M110.4 232.9h0M110.6 230.1h0M110.9 232.1h0M111.1 232.2h0M111.3 231.0h0M111.6 230.8h0M111.8 230.3h0M112.1 231.6h0M112.3 232.9h0M112.6 232.8h0M112.8 231.4h0M113.1 231.3h0M113.3 230.2h0M113.6 231.5h0M113.8 230.7h0M114.1 230.1h0M114.3 231.9h0M114.6 234.1h0M114.8 233.7h0M115.1 234.1h0M115.3 230.0h0M115.5 233.3h0M115.8 230.5h0M116.0 231.4h0M116.3 229.9h0M116.5 230.9h0M116.8 232.4h0M117.0 232.5h0M117.3 232.1h0M117.5 232.0h0M117.8 233.0h0M118.0 232.3h0M118.3 230.1h0M118.5 234.6h0M118.8 231.9h0M119.0 233.5h0M119.3 232.1h0M119.5 231.2h0M119.7 232.4h0M120.0 231.3h0M120.2 234.5h0M120.5 230.9h0M120.7 233.2h0M121.0 231.5h0M121.2 232.1h0M121.5 235.8h0M121.7 233.4h0M122.0 232.1h0M122.2 230.3h0M122.5 232.0h0M122.7 232.1h0M123.0 234.3h0M123.2 230.5h0M123.5 230.0h0M72.2 236.7h0M72.4 238.1h0M72.7 241.1h0M72.9 239.7h0M73.2 239.5h0M73.4 243.7h0M73.7 245.6h0M73.9 249.1h0M74.2 253.4h0M74.4 251.7h0M74.7 250.6h0M74.9 247.0h0M75.2 244.2h0M75.4 241.5h0M75.7 240.2h0M75.9 238.7h0M76.2 238.8h0M76.4 238.3h0" fill="none" stroke="#1a1ac4" stroke-width="1.15" stroke-linecap="round"/>
<path d="M88.2 207.6h7.9" stroke="#c4c4c4" stroke-width="0.7"/>
<text x="100.2" y="209.3" font-family='"DejaVu Sans","Liberation Sans",sans-serif' font-size="4.3" fill="#2a2a2a">4.37 mW</text>
<g font-family='"DejaVu Sans","Liberation Sans",sans-serif' font-weight="bold" font-size="4.1" fill="#111" text-anchor="end">
<text x="26.9" y="204.1">2.0</text>
<text x="26.9" y="218.9">1.5</text>
<text x="26.9" y="233.7">1.0</text>
<text x="26.9" y="248.6">0.5</text>
</g>
<rect x="28.5" y="265.3" width="94.9" height="59.3" fill="#fff" stroke="#c4c4c4" stroke-width="0.7"/>
<path d="M28.5 309.8H123.4" stroke="#f5cfcf" stroke-width="0.55"/>
<path d="M28.4 295.0L30.3 295.0L32.2 294.9L34.1 294.8L35.9 294.8L37.8 294.7L39.7 294.6L41.6 294.5L43.5 294.4L45.4 294.3L47.3 294.2L49.2 294.1L51.1 294.0L53.0 293.9L54.9 293.8L56.8 293.6L58.7 293.5L60.6 293.3L62.5 293.2L64.4 293.1L64.4 293.1L64.7 293.1L64.9 293.0L65.2 293.0L65.4 293.0L65.7 293.0L65.9 293.0L66.1 293.0L66.4 293.0L66.6 293.0L66.9 293.0L67.1 293.1L67.4 293.1L67.6 293.1L67.9 293.2L68.1 293.2L68.4 293.3L68.6 293.3L68.9 293.4L69.1 293.5L69.4 293.7L69.6 293.8L69.9 294.0L70.1 294.3L70.3 294.5L70.6 294.9L70.8 295.2L71.1 295.7L71.3 296.2L71.6 296.8L71.8 297.5L72.1 298.3L72.3 299.3L72.6 300.4L72.8 301.7L73.1 303.3L73.3 305.0L73.6 307.1L73.8 309.6L74.1 312.4L74.3 315.7L74.5 312.4L74.8 309.6L75.0 307.1L75.3 305.0L75.5 303.3L75.8 301.7L76.0 300.4L76.3 299.3L76.5 298.3L76.8 297.5L77.0 296.8L77.3 296.2L77.5 295.7L77.8 295.2L78.0 294.9L78.3 294.5L78.5 294.3L78.7 294.0L79.0 293.8L79.2 293.7L79.5 293.5L79.7 293.4L80.0 293.3L80.2 293.3L80.5 293.2L80.7 293.2L81.0 293.1L81.2 293.1L81.5 293.1L81.7 293.0L82.0 293.0L82.2 293.0L82.5 293.0L82.7 293.0L82.9 293.0L83.2 293.0L83.4 293.0L83.7 293.0L83.9 293.1L84.2 293.1L84.2 293.1L86.3 293.2L88.3 293.4L90.4 293.5L92.5 293.7L94.6 293.8L96.7 294.0L98.7 294.1L100.8 294.2L102.9 294.3L105.0 294.4L107.1 294.5L109.1 294.6L111.2 294.7L113.3 294.8L115.4 294.9L117.5 294.9L119.5 295.0L121.6 295.1L123.7 295.1" fill="none" stroke="#c9c9c9" stroke-width="0.8"/>
<path d="M28.4 295.0h0M28.6 295.8h0M28.9 296.5h0M29.1 296.4h0M29.3 295.6h0M29.6 297.1h0M29.8 296.5h0M30.1 296.8h0M30.3 294.8h0M30.6 294.5h0M40.2 292.3h0M40.5 296.3h0M40.7 295.3h0M41.0 293.5h0M41.2 294.8h0M41.4 294.9h0M41.7 292.6h0M41.9 294.9h0M42.2 295.8h0M42.4 296.0h0M42.7 294.1h0M42.9 294.1h0M43.2 296.0h0M43.4 295.6h0M43.7 293.8h0M43.9 293.8h0M44.2 295.1h0M44.4 293.7h0M44.7 293.7h0M44.9 296.4h0M45.2 294.7h0M45.4 293.9h0M45.6 295.0h0M45.9 296.7h0M46.1 294.6h0M46.4 293.4h0M46.6 292.5h0M46.9 296.8h0M47.1 291.3h0M47.4 295.5h0M47.6 293.1h0M47.9 292.8h0M48.1 293.1h0M48.4 294.0h0M48.6 295.5h0M48.9 293.4h0M49.1 294.9h0M49.4 297.0h0M49.6 290.9h0M49.8 293.3h0M50.1 292.0h0M50.3 295.1h0M50.6 292.4h0M50.8 292.2h0M51.1 292.2h0M51.3 294.0h0M51.6 295.4h0M51.8 294.2h0M52.1 296.5h0M52.3 295.9h0M52.6 293.8h0M52.8 295.0h0M53.1 294.1h0M53.3 294.0h0M53.6 291.6h0M53.8 292.4h0M54.0 293.9h0M54.3 292.4h0M54.5 294.7h0M54.8 294.2h0M55.0 292.7h0M55.3 295.2h0M55.5 294.0h0M55.8 295.2h0M56.0 293.6h0M56.3 291.8h0M56.5 294.5h0M56.8 293.4h0M57.0 294.7h0M57.3 294.9h0M57.5 295.0h0M57.8 291.9h0M58.0 290.8h0M58.2 293.0h0M58.5 294.3h0M58.7 292.7h0M59.0 293.9h0M59.2 292.5h0M59.5 293.1h0M59.7 293.1h0M60.0 292.7h0M60.2 294.0h0M60.5 293.8h0M60.7 295.3h0M61.0 293.8h0M61.2 294.9h0M61.5 293.4h0M61.7 294.4h0M61.9 293.1h0M62.2 292.7h0M62.4 294.9h0M62.7 294.1h0M62.9 294.3h0M63.2 292.3h0M63.4 291.2h0M63.7 292.1h0M63.9 293.5h0M64.2 291.4h0M64.4 294.8h0M64.7 291.3h0M64.9 293.8h0M65.2 296.3h0M65.4 289.9h0M65.7 291.2h0M65.9 294.2h0M66.1 292.8h0M66.4 293.3h0M66.6 292.9h0M66.9 294.8h0M67.1 293.8h0M67.4 292.5h0M67.6 292.9h0M67.9 291.8h0M68.1 293.1h0M68.4 290.5h0M68.6 294.2h0M68.9 293.1h0M69.1 295.8h0M69.4 295.1h0M69.6 292.3h0M69.9 295.1h0M70.1 293.7h0M70.3 294.6h0M70.6 296.0h0M70.8 295.6h0M71.1 296.2h0M71.3 296.7h0M71.6 296.0h0M71.8 296.8h0M72.1 298.9h0M72.3 300.2h0M72.6 300.1h0M72.8 301.8h0M73.1 302.3h0M73.3 302.6h0M73.6 306.4h0M73.8 309.6h0M74.1 312.5h0M74.3 316.2h0M74.5 313.1h0M74.8 310.4h0M75.0 307.5h0M75.3 305.4h0M75.5 302.5h0M75.8 302.1h0M76.0 300.6h0M76.3 300.5h0M76.5 296.6h0M76.8 296.9h0M77.0 294.8h0M77.3 295.3h0M77.5 294.0h0M77.8 295.5h0M78.0 294.0h0M78.3 291.5h0M78.5 295.7h0M78.7 292.7h0M79.0 291.9h0M79.2 293.2h0M79.5 292.7h0M79.7 292.0h0M80.0 294.1h0M80.2 292.8h0M80.5 294.2h0M80.7 294.0h0M81.0 293.8h0M81.2 293.2h0M81.5 292.9h0M89.1 292.9h0M89.4 295.1h0M89.6 291.1h0M89.9 292.1h0M90.1 292.7h0M90.4 294.0h0M90.6 293.7h0M90.8 292.9h0M91.1 293.1h0M91.3 295.6h0M91.6 292.7h0M91.8 290.2h0M92.1 295.8h0M92.3 292.5h0M92.6 293.3h0M92.8 293.8h0M93.1 292.1h0M93.3 295.1h0M93.6 293.6h0M93.8 292.0h0M94.1 294.0h0M94.3 294.3h0M94.6 293.7h0M94.8 294.4h0M95.0 292.0h0M95.3 294.9h0M95.5 292.9h0M95.8 295.4h0M96.0 293.1h0M96.3 294.1h0M96.5 297.0h0M96.8 294.0h0M97.0 295.2h0M97.3 294.5h0M97.5 292.2h0M97.8 295.3h0M98.0 295.3h0M98.3 292.4h0M98.5 293.9h0M98.8 292.3h0M99.0 293.7h0M99.2 295.2h0M99.5 294.2h0M99.7 292.7h0M100.0 293.1h0M100.2 294.2h0M100.5 294.1h0M100.7 294.3h0M101.0 294.9h0M101.2 292.0h0M101.5 294.2h0M101.7 295.6h0M102.0 294.8h0M102.2 293.4h0M102.5 293.5h0M102.7 294.5h0M103.0 295.1h0M103.2 294.3h0M103.4 296.3h0M103.7 295.9h0M103.9 293.4h0M104.2 294.9h0M104.4 294.0h0M104.7 293.0h0M104.9 293.7h0M105.2 294.4h0M105.4 292.0h0M105.7 293.7h0M105.9 294.9h0M106.2 293.6h0M106.4 294.0h0M106.7 295.5h0M106.9 294.4h0M107.2 294.7h0M107.4 296.8h0M107.6 294.8h0M107.9 294.9h0M108.1 295.1h0M108.4 296.5h0M108.6 295.0h0M108.9 294.7h0M109.1 294.5h0M109.4 296.0h0M109.6 293.9h0M109.9 296.1h0M110.1 294.9h0M110.4 293.2h0M110.6 295.5h0M110.9 295.3h0M111.1 293.5h0M111.3 295.2h0M111.6 295.1h0M111.8 294.5h0M112.1 293.5h0M112.3 297.3h0M112.6 295.7h0M112.8 295.9h0M113.1 296.0h0M113.3 295.8h0M113.6 295.8h0M113.8 294.5h0M114.1 295.9h0M114.3 294.7h0M114.6 294.4h0M114.8 295.7h0M115.1 294.7h0M115.3 293.0h0M115.5 294.5h0M115.8 295.6h0M116.0 295.0h0M116.3 296.0h0M116.5 294.6h0M116.8 293.9h0M117.0 295.9h0M117.3 295.2h0M117.5 293.7h0M117.8 295.5h0M118.0 294.7h0M118.3 296.2h0M118.5 295.9h0M118.8 295.6h0M119.0 292.5h0M119.3 295.5h0M119.5 295.6h0M119.7 295.7h0M120.0 295.2h0M120.2 294.3h0M120.5 294.8h0M120.7 292.7h0M121.0 294.8h0M121.2 293.4h0M121.5 294.8h0M121.7 294.4h0M122.0 296.7h0M122.2 295.2h0M122.5 295.2h0M122.7 295.4h0M123.0 297.5h0M123.2 294.1h0M123.5 295.6h0M72.2 299.2h0M72.4 300.1h0M72.7 301.3h0M72.9 302.1h0M73.2 305.3h0M73.4 306.9h0M73.7 308.1h0M73.9 310.8h0M74.2 314.2h0M74.4 314.4h0M74.7 311.6h0M74.9 308.3h0M75.2 305.0h0M75.4 305.1h0M75.7 301.0h0M75.9 300.2h0M76.2 300.3h0M76.4 297.9h0" fill="none" stroke="#1a1ac4" stroke-width="1.15" stroke-linecap="round"/>
<path d="M88.2 270.3h7.9" stroke="#c4c4c4" stroke-width="0.7"/>
<text x="100.2" y="272" font-family='"DejaVu Sans","Liberation Sans",sans-serif' font-size="4.3" fill="#2a2a2a">5.52 mW</text>
<g font-family='"DejaVu Sans","Liberation Sans",sans-serif' font-weight="bold" font-size="4.1" fill="#111" text-anchor="end">
<text x="26.9" y="266.8">2.0</text>
<text x="26.9" y="281.6">1.5</text>
<text x="26.9" y="296.5">1.0</text>
<text x="26.9" y="311.3">0.5</text>
<text x="26.9" y="326.1">0.0</text>
</g>
<g font-family='"DejaVu Sans","Liberation Sans",sans-serif' font-weight="bold" font-size="4.1" fill="#111" text-anchor="middle">
<text x="49.4" y="328.4">−50</text>
<text x="74.3" y="328.4">0</text>
<text x="99" y="328.4">50</text>
<text x="123.7" y="328.4">100</text>
<text x="75.3" y="332.9" font-size="4.3">t [ns]</text>
</g>
</g>
<g id="pb">
<rect x="160.7" y="28.8" width="162.3" height="117.2" fill="#fff" stroke="#a8a8a8" stroke-width="0.7"/>
<g font-family='"DejaVu Sans","Liberation Sans",sans-serif' font-size="6" fill="#1a1a1a" stroke="#1a1a1a" stroke-width="0.1">
<text x="241.8" y="26.8" text-anchor="middle" font-size="5.6">Lifetime</text>
<path d="M160.7 135.6h-1.6" stroke="#888" stroke-width="0.5"/>
<text x="158.5" y="138.2" text-anchor="end">0.16</text>
<path d="M160.7 114.9h-1.6" stroke="#888" stroke-width="0.5"/>
<text x="158.5" y="117.5" text-anchor="end">0.18</text>
<path d="M160.7 94.1h-1.6" stroke="#888" stroke-width="0.5"/>
<text x="158.5" y="96.7" text-anchor="end">0.20</text>
<path d="M160.7 73.3h-1.6" stroke="#888" stroke-width="0.5"/>
<text x="158.5" y="75.9" text-anchor="end">0.22</text>
<path d="M160.7 52.6h-1.6" stroke="#888" stroke-width="0.5"/>
<text x="158.5" y="55.2" text-anchor="end">0.24</text>
<path d="M160.7 31.8h-1.6" stroke="#888" stroke-width="0.5"/>
<text x="158.5" y="34.4" text-anchor="end">0.26</text>
<path d="M170.3 146.0v1.6" stroke="#888" stroke-width="0.5"/>
<text x="170.3" y="152.7" text-anchor="middle">1</text>
<path d="M202.2 146.0v1.6" stroke="#888" stroke-width="0.5"/>
<text x="202.2" y="152.7" text-anchor="middle">2</text>
<path d="M234 146.0v1.6" stroke="#888" stroke-width="0.5"/>
<text x="234" y="152.7" text-anchor="middle">3</text>
<path d="M265.9 146.0v1.6" stroke="#888" stroke-width="0.5"/>
<text x="265.9" y="152.7" text-anchor="middle">4</text>
<path d="M297.7 146.0v1.6" stroke="#888" stroke-width="0.5"/>
<text x="297.7" y="152.7" text-anchor="middle">5</text>
<text x="241.8" y="160" text-anchor="middle" font-size="6.1">P (mW)</text>
<text transform="translate(143.6 88.5) rotate(-90)" text-anchor="middle" font-size="6.1">γ1 (1/ns)</text>
</g>
<path d="M167.8 117.4L314.3 53.8" stroke="#f06e6e" stroke-width="1"/>
<path d="M167.8 57.3V132.2" stroke="#5f7ddc" stroke-width="0.6"/>
<path d="M204.1 87.1V139.8" stroke="#5f7ddc" stroke-width="0.6"/>
<path d="M240.7 72.4V114.9" stroke="#5f7ddc" stroke-width="0.6"/>
<path d="M277.6 43.3V83.2" stroke="#5f7ddc" stroke-width="0.6"/>
<path d="M314.3 34.3V73.3" stroke="#5f7ddc" stroke-width="0.6"/>
<circle cx="167.8" cy="94.5" r="1.25" fill="#0c0c96"/>
<circle cx="204.1" cy="113.6" r="1.25" fill="#0c0c96"/>
<circle cx="240.7" cy="93.1" r="1.25" fill="#0c0c96"/>
<circle cx="277.6" cy="63.1" r="1.25" fill="#0c0c96"/>
<circle cx="314.3" cy="53.3" r="1.25" fill="#0c0c96"/>
</g>
<g id="pc">
<rect x="159.3" y="206.6" width="163" height="114" fill="#fff" stroke="#a8a8a8" stroke-width="0.7"/>
<g font-family='"DejaVu Sans","Liberation Sans",sans-serif' font-size="6" fill="#1a1a1a" stroke="#1a1a1a" stroke-width="0.1">
<text x="240.8" y="204.6" text-anchor="middle" font-size="5.7">Saturation</text>
<path d="M159.3 307.6h-1.6" stroke="#888" stroke-width="0.5"/>
<text x="157" y="310.5" text-anchor="end">40</text>
<path d="M159.3 282.8h-1.6" stroke="#888" stroke-width="0.5"/>
<text x="157" y="285.7" text-anchor="end">60</text>
<path d="M159.3 258h-1.6" stroke="#888" stroke-width="0.5"/>
<text x="157" y="260.9" text-anchor="end">80</text>
<path d="M159.3 233.2h-1.6" stroke="#888" stroke-width="0.5"/>
<text x="157" y="236.1" text-anchor="end">100</text>
<path d="M159.3 208.4h-1.6" stroke="#888" stroke-width="0.5"/>
<text x="157" y="211.3" text-anchor="end">120</text>
<path d="M169 320.6v1.6" stroke="#888" stroke-width="0.5"/>
<text x="169" y="327.8" text-anchor="middle">1</text>
<path d="M198.1 320.6v1.6" stroke="#888" stroke-width="0.5"/>
<text x="198.1" y="327.8" text-anchor="middle">2</text>
<path d="M227.2 320.6v1.6" stroke="#888" stroke-width="0.5"/>
<text x="227.2" y="327.8" text-anchor="middle">3</text>
<path d="M256.2 320.6v1.6" stroke="#888" stroke-width="0.5"/>
<text x="256.2" y="327.8" text-anchor="middle">4</text>
<path d="M285.3 320.6v1.6" stroke="#888" stroke-width="0.5"/>
<text x="285.3" y="327.8" text-anchor="middle">5</text>
<path d="M314.4 320.6v1.6" stroke="#888" stroke-width="0.5"/>
<text x="314.4" y="327.8" text-anchor="middle">6</text>
<text x="240.8" y="334.8" text-anchor="middle" font-size="6.1">P (mW)</text>
<text transform="translate(143.6 263.9) rotate(-90)" text-anchor="middle" font-size="6.1">PL Intensity (kcps)</text>
</g>
<path d="M166.7 315.5L170.5 312.3L174.2 309.1L178.0 305.9L181.8 302.8L185.6 299.7L189.4 296.7L193.2 293.6L197.0 290.6L200.8 287.7L204.6 284.7L208.3 281.8L212.1 278.9L215.9 276.0L219.7 273.2L223.5 270.4L227.3 267.6L231.1 264.9L234.9 262.2L238.6 259.5L242.4 256.8L246.2 254.2L250.0 251.6L253.8 249.0L257.6 246.5L261.4 244.0L265.2 241.5L268.9 239.0L272.7 236.6L276.5 234.2L280.3 231.8L284.1 229.5L287.9 227.2L291.7 224.9L295.5 222.6L299.2 220.4L303.0 218.2L306.8 216.1L310.6 213.9L314.4 211.8" fill="none" stroke="#f0583c" stroke-width="1"/>
<circle cx="166.7" cy="311.9" r="1.25" fill="#1c1cbc"/>
<circle cx="173.4" cy="310.1" r="1.25" fill="#1c1cbc"/>
<circle cx="180.1" cy="306.4" r="1.25" fill="#1c1cbc"/>
<circle cx="186.8" cy="300.7" r="1.25" fill="#1c1cbc"/>
<circle cx="193.5" cy="293.3" r="1.25" fill="#1c1cbc"/>
<circle cx="200.2" cy="289.4" r="1.25" fill="#1c1cbc"/>
<circle cx="207" cy="284.5" r="1.25" fill="#1c1cbc"/>
<circle cx="213.7" cy="276.7" r="1.25" fill="#1c1cbc"/>
<circle cx="220.4" cy="273.3" r="1.25" fill="#1c1cbc"/>
<circle cx="227.1" cy="269.4" r="1.25" fill="#1c1cbc"/>
<circle cx="233.8" cy="264" r="1.25" fill="#1c1cbc"/>
<circle cx="240.5" cy="259.1" r="1.25" fill="#1c1cbc"/>
<circle cx="247.3" cy="253.2" r="1.25" fill="#1c1cbc"/>
<circle cx="254" cy="248.3" r="1.25" fill="#1c1cbc"/>
<circle cx="260.7" cy="243.4" r="1.25" fill="#1c1cbc"/>
<circle cx="267.4" cy="239" r="1.25" fill="#1c1cbc"/>
<circle cx="274.1" cy="234.1" r="1.25" fill="#1c1cbc"/>
<circle cx="280.8" cy="231.7" r="1.25" fill="#1c1cbc"/>
<circle cx="287.5" cy="227.7" r="1.25" fill="#1c1cbc"/>
<circle cx="294.3" cy="223.4" r="1.25" fill="#1c1cbc"/>
<circle cx="301" cy="219.9" r="1.25" fill="#1c1cbc"/>
<circle cx="307.7" cy="216.1" r="1.25" fill="#1c1cbc"/>
<circle cx="314.4" cy="213.6" r="1.25" fill="#1c1cbc"/>
</g>
<g id="pd">
<defs><linearGradient id="gv" x1="0" y1="0" x2="0" y2="1"><stop offset="0" stop-color="#a4a4a4"/><stop offset="1" stop-color="#787878"/></linearGradient><linearGradient id="gh" x1="0" y1="0" x2="1" y2="0"><stop offset="0" stop-color="#a4a4a4"/><stop offset="1" stop-color="#787878"/></linearGradient></defs>
<rect x="410.5" y="2.8" width="37.2" height="19.8" fill="#8ad870"/>
<path d="M427.5 22.4L429.9 22.4L431.3 36L426.1 36Z" fill="#8ad870"/>
<rect x="414" y="116.4" width="76" height="8.2" fill="#8ad870"/>
<rect x="414" y="116.3" width="12" height="2.4" fill="#cc9a74"/>
<rect x="432" y="116.3" width="56" height="1.5" fill="#d3a47c"/>
<rect x="425.1" y="64" width="7.4" height="86.7" fill="#8ad870"/>
<rect x="425.1" y="143.3" width="65.5" height="7.4" fill="#8ad870"/>
<rect x="483.2" y="118" width="7.4" height="32.7" fill="#8ad870"/>
<path d="M369.8 120.4L385.4 117.6L385.4 123.6Z" fill="#8ad870"/>
<path d="M489 116.9L510.4 116L510.4 125.2L494 124.4Z" fill="#f04446"/>
<path d="M536 116.3L555.6 120.7L536 125.1Z" fill="#f04446"/>
<path d="M420.5 65.3V41.4L427.7 34.9H429.7L436.9 41.4V65.3Z" fill="url(#gv)" stroke="#262626" stroke-width="0.9" stroke-linejoin="round"/>
<path d="M414.7 112.3H390.8L385 117.7V123L390.8 128.6H414.7Z" fill="url(#gh)" stroke="#262626" stroke-width="0.9" stroke-linejoin="round"/>
<rect x="420.5" y="78.1" width="16.4" height="2.5" rx="0.4" fill="#9cc6e2" stroke="#1c3556" stroke-width="0.8"/>
<rect x="420.5" y="85.8" width="16.4" height="2.5" rx="0.4" fill="#9cc6e2" stroke="#1c3556" stroke-width="0.8"/>
<rect x="353.7" y="95.1" width="11.2" height="50.5" fill="#080808"/>
<rect x="364.9" y="107" width="11" height="25.8" rx="1.4" fill="#cfcfcf" stroke="#3a3a3a" stroke-width="0.8"/>
<path d="M370 120.5L376.4 119.3V121.7Z" fill="#63bd55"/>
<path d="M370 92.6V149" stroke="#111" stroke-width="1.25" stroke-dasharray="4.2 3"/>
<rect x="-10.8" y="-2.7" width="21.6" height="5.4" transform="translate(428.7 149.2) rotate(43)" fill="#c2e0f5" stroke="#35536f" stroke-width="0.7"/>
<rect x="-10.8" y="-2.7" width="21.6" height="5.4" transform="translate(486.3 149.4) rotate(-46)" fill="#c2e0f5" stroke="#35536f" stroke-width="0.7"/>
<rect x="-10.2" y="-1.9" width="20.4" height="3.8" transform="translate(486.9 119.8) rotate(44.5)" fill="#4584c6" stroke="#10203a" stroke-width="0.9"/>
<rect x="509.9" y="110.3" width="11.5" height="19.9" rx="2.4" fill="#7cc6ec" stroke="#101c2a" stroke-width="0.95"/>
<rect x="521.4" y="110.3" width="15.1" height="19.9" rx="2.4" fill="#7cc6ec" stroke="#101c2a" stroke-width="0.95"/>
<path d="M556.3 109V131.9" stroke="#0c1a30" stroke-width="2"/>
<path d="M556 120.7C562 120.7 568 121.8 573 125.6C578 129.5 581 134 582.3 139.5C583.6 144.5 586.5 148 592 150C597 151.5 601 151.8 605 151.8" fill="none" stroke="#f3a57c" stroke-width="1.1"/>
<path d="M556 120.7C562 120.7 568 121.8 573 125.6C578 129.5 581 134 582.3 139.5C583.6 144.5 586.5 148 592 150C597 151.5 601 151.8 605 151.8" fill="none" stroke="#fde3d3" stroke-width="0.35"/>
<rect x="605.3" y="136.8" width="77.2" height="29.5" fill="#fff" stroke="#55829a" stroke-width="1"/>
<g font-family='"Liberation Sans","DejaVu Sans",sans-serif' font-weight="bold" font-size="6.7" fill="#161616" stroke="#161616" stroke-width="0.12" text-anchor="middle">
<text x="643.9" y="146">Spectrometer or</text>
<text x="643.9" y="153.8">Hanbury-Brown and</text>
<text x="643.9" y="161.3">Twiss interferometer</text>
</g>
<g font-family='"Liberation Sans","DejaVu Sans",sans-serif' font-weight="bold" font-size="5.1" fill="#161616" stroke="#161616" stroke-width="0.14" text-anchor="middle">
<text x="429.1" y="11.9" font-size="5.4">505 nm</text>
<text x="429.1" y="18.6" font-size="5.4">LASER</text>
<text x="404.7" y="50.8">Collimation</text>
<text x="405.1" y="56.6">objective</text>
<text x="443.3" y="81.8" text-anchor="start">Linear polarizer</text>
<text x="443.3" y="89.7" text-anchor="start" font-size="5.3">Half-waveplate</text>
<text x="358.7" y="84.7">Piezoelectric</text>
<text x="358.9" y="91">nanopositioner</text>
<text x="402.2" y="101.2">100x</text>
<text x="402.7" y="107.2">air objective</text>
<text x="368.1" y="156.8">Sample focal</text>
<text x="368.1" y="162.6">plane</text>
<text x="486" y="100.8">Dichroic</text>
<text x="486" y="107">mirror</text>
<text x="515" y="100.8">Optical</text>
<text x="516" y="107">filters</text>
<text x="528" y="141.5">Achromatic</text>
<text x="528" y="147.7">Doublet</text>
<text x="556.7" y="143.9">Pinhole</text>
<text x="589" y="113.4">Multi-mode</text>
<text x="589" y="119.4">Optical Fiber</text>
<text x="456.3" y="156.8">Alignment</text>
<text x="456.7" y="163.2">mirrors</text>
</g>
</g>
<g id="pe">
<path d="M516.6 184.4V176" stroke="#0a0a0a" stroke-width="2.1"/>
<path d="M516.6 170.5L520.9 178.1L516.6 176.8L512.3 178.1Z" fill="#0a0a0a"/>
<text x="526.6" y="183.7" font-family='"Liberation Sans","DejaVu Sans",sans-serif' font-size="9" fill="#1c1c1c">&lt;100&gt;</text>
<circle cx="516.5" cy="262.0" r="8" fill="none" stroke="#c4c4c4" stroke-width="0.5"/>
<circle cx="516.5" cy="262.0" r="16.1" fill="none" stroke="#c4c4c4" stroke-width="0.5"/>
<circle cx="516.5" cy="262.0" r="24.1" fill="none" stroke="#c4c4c4" stroke-width="0.5"/>
<circle cx="516.5" cy="262.0" r="32.1" fill="none" stroke="#c4c4c4" stroke-width="0.5"/>
<circle cx="516.5" cy="262.0" r="40.1" fill="none" stroke="#c4c4c4" stroke-width="0.5"/>
<circle cx="516.5" cy="262.0" r="48.1" fill="none" stroke="#c4c4c4" stroke-width="0.5"/>
<circle cx="516.5" cy="262.0" r="56.2" fill="none" stroke="#c4c4c4" stroke-width="0.5"/>
<circle cx="516.5" cy="262.0" r="64.2" fill="none" stroke="#8f8f8f" stroke-width="0.65"/>
<path d="M516.5 254.0L516.5 197.8M520.5 255.1L548.6 206.4M523.4 258.0L572.1 229.9M524.5 262.0L580.7 262.0M523.4 266.0L572.1 294.1M520.5 268.9L548.6 317.6M516.5 270.0L516.5 326.2M512.5 268.9L484.4 317.6M509.6 266.0L460.9 294.1M508.5 262.0L452.3 262.0M509.6 258.0L460.9 229.9M512.5 255.1L484.4 206.4" stroke="#c2c2c2" stroke-width="0.5" fill="none"/>
<g font-family='"Liberation Sans","DejaVu Sans",sans-serif' font-size="5.2" fill="#1a1a1a" text-anchor="middle">
<text x="516.5" y="193.55">0</text>
<text x="552.5" y="203.05">30</text>
<text x="577" y="227.55">60</text>
<text x="586.5" y="263.85">90</text>
<text x="578.4" y="300.15">120</text>
<text x="554.8" y="325.15">150</text>
<text x="516.5" y="333.85">180</text>
<text x="479" y="325.15">210</text>
<text x="454" y="300.15">240</text>
<text x="444.8" y="263.85">270</text>
<text x="454" y="227.55">300</text>
<text x="479" y="203.05">330</text>
</g>
<path d="M438.6 197.8V326.2" stroke="#555" stroke-width="0.5"/>
<g font-family='"Liberation Sans","DejaVu Sans",sans-serif' font-size="4.9" fill="#1a1a1a" text-anchor="end">
<text x="435.6" y="199.5">80</text>
<text x="435.6" y="207.5">70</text>
<text x="435.6" y="215.5">60</text>
<text x="435.6" y="223.6">50</text>
<text x="435.6" y="231.6">40</text>
<text x="435.6" y="239.6">30</text>
<text x="435.6" y="247.6">20</text>
<text x="435.6" y="255.7">10</text>
<text x="435.6" y="263.7">0</text>
<text x="435.6" y="271.7">10</text>
<text x="435.6" y="279.8">20</text>
<text x="435.6" y="287.8">30</text>
<text x="435.6" y="295.8">40</text>
<text x="435.6" y="303.8">50</text>
<text x="435.6" y="311.8">60</text>
<text x="435.6" y="319.9">70</text>
<text x="435.6" y="327.9">80</text>
</g>
<path d="M438.6 197.8h-1.8M438.6 201.8h-1M438.6 205.8h-1.8M438.6 209.8h-1M438.6 213.8h-1.8M438.6 217.9h-1M438.6 221.9h-1.8M438.6 225.9h-1M438.6 229.9h-1.8M438.6 233.9h-1M438.6 237.9h-1.8M438.6 241.9h-1M438.6 245.9h-1.8M438.6 250.0h-1M438.6 254.0h-1.8M438.6 258.0h-1M438.6 262.0h-1.8M438.6 266.0h-1M438.6 270.0h-1.8M438.6 274.0h-1M438.6 278.1h-1.8M438.6 282.1h-1M438.6 286.1h-1.8M438.6 290.1h-1M438.6 294.1h-1.8M438.6 298.1h-1M438.6 302.1h-1.8M438.6 306.1h-1M438.6 310.1h-1.8M438.6 314.2h-1M438.6 318.2h-1.8M438.6 322.2h-1M438.6 326.2h-1.8" stroke="#555" stroke-width="0.4"/>
<text transform="translate(424 275.2) rotate(-90)" font-family='"Liberation Sans","DejaVu Sans",sans-serif' font-size="6.5" fill="#222" text-anchor="middle">Intensity (kcps)</text>
<text x="518" y="343" font-family='"Liberation Sans","DejaVu Sans",sans-serif' font-size="6.4" fill="#222" text-anchor="middle">Polarization Angle (°)</text>
<path d="M516.5 210.8L519.2 210.1L522.0 209.6L524.8 209.5L527.6 209.6L530.4 210.1L533.1 210.9L535.7 211.9L538.2 213.3L540.5 214.9L542.6 216.8L544.5 218.8L546.2 221.1L547.6 223.5L548.8 226.1L549.8 228.7L550.4 231.4L550.9 234.2L551.1 236.9L551.0 239.6L550.8 242.2L550.3 244.8L549.8 247.2L549.0 249.5L548.2 251.7L547.3 253.8L546.3 255.7L545.3 257.4L544.3 259.1L543.3 260.6L542.4 262.0L541.5 263.3L540.7 264.5L540.1 265.7L539.5 266.9L539.0 268.0L538.6 269.2L538.4 270.4L538.2 271.6L538.1 273.0L538.0 274.4L538.0 275.9L537.9 277.6L537.9 279.3L537.8 281.2L537.7 283.2L537.5 285.3L537.1 287.5L536.7 289.8L536.0 292.1L535.2 294.4L534.2 296.8L533.0 299.1L531.6 301.4L530.0 303.6L528.2 305.7L526.2 307.6L524.0 309.3L521.6 310.8L519.1 312.1L516.5 313.2L513.8 313.9L511.0 314.4L508.2 314.5L505.4 314.4L502.6 313.9L499.9 313.1L497.3 312.1L494.8 310.7L492.5 309.1L490.4 307.2L488.5 305.2L486.8 302.9L485.4 300.5L484.2 297.9L483.2 295.3L482.6 292.6L482.1 289.8L481.9 287.1L482.0 284.4L482.2 281.8L482.7 279.2L483.2 276.8L484.0 274.5L484.8 272.3L485.7 270.2L486.7 268.3L487.7 266.6L488.7 264.9L489.7 263.4L490.6 262.0L491.5 260.7L492.3 259.5L492.9 258.3L493.5 257.1L494.0 256.0L494.4 254.8L494.6 253.6L494.8 252.4L494.9 251.0L495.0 249.6L495.0 248.1L495.1 246.4L495.1 244.7L495.2 242.8L495.3 240.8L495.5 238.7L495.9 236.5L496.3 234.2L497.0 231.9L497.8 229.6L498.8 227.2L500.0 224.9L501.4 222.6L503.0 220.4L504.8 218.3L506.8 216.4L509.0 214.7L511.4 213.2L513.9 211.9L516.5 210.8Z" fill="none" stroke="#e6262a" stroke-width="1.1"/>
<rect x="515.3" y="206.3" width="2.4" height="2.4" fill="#1616c6"/>
<rect x="533.1" y="210.6" width="2.4" height="2.4" fill="#1616c6"/>
<rect x="548.4" y="220.4" width="2.4" height="2.4" fill="#1616c6"/>
<rect x="552.2" y="238.6" width="2.4" height="2.4" fill="#1616c6"/>
<rect x="547" y="254.7" width="2.4" height="2.4" fill="#1616c6"/>
<rect x="536.9" y="264.5" width="2.4" height="2.4" fill="#1616c6"/>
<rect x="538.6" y="274" width="2.4" height="2.4" fill="#1616c6"/>
<rect x="536.3" y="286.4" width="2.4" height="2.4" fill="#1616c6"/>
<rect x="530.3" y="302.8" width="2.4" height="2.4" fill="#1616c6"/>
<rect x="515.3" y="307.1" width="2.4" height="2.4" fill="#1616c6"/>
<rect x="496" y="311.8" width="2.4" height="2.4" fill="#1616c6"/>
<rect x="485.9" y="295.1" width="2.4" height="2.4" fill="#1616c6"/>
<rect x="481" y="280.4" width="2.4" height="2.4" fill="#1616c6"/>
<rect x="486.5" y="265.4" width="2.4" height="2.4" fill="#1616c6"/>
<rect x="487.9" y="255.9" width="2.4" height="2.4" fill="#1616c6"/>
<rect x="498.8" y="251.2" width="2.4" height="2.4" fill="#1616c6"/>
<rect x="493.1" y="234.3" width="2.4" height="2.4" fill="#1616c6"/>
<rect x="501.8" y="224.2" width="2.4" height="2.4" fill="#1616c6"/>
</g>
</svg>
</body></html>
